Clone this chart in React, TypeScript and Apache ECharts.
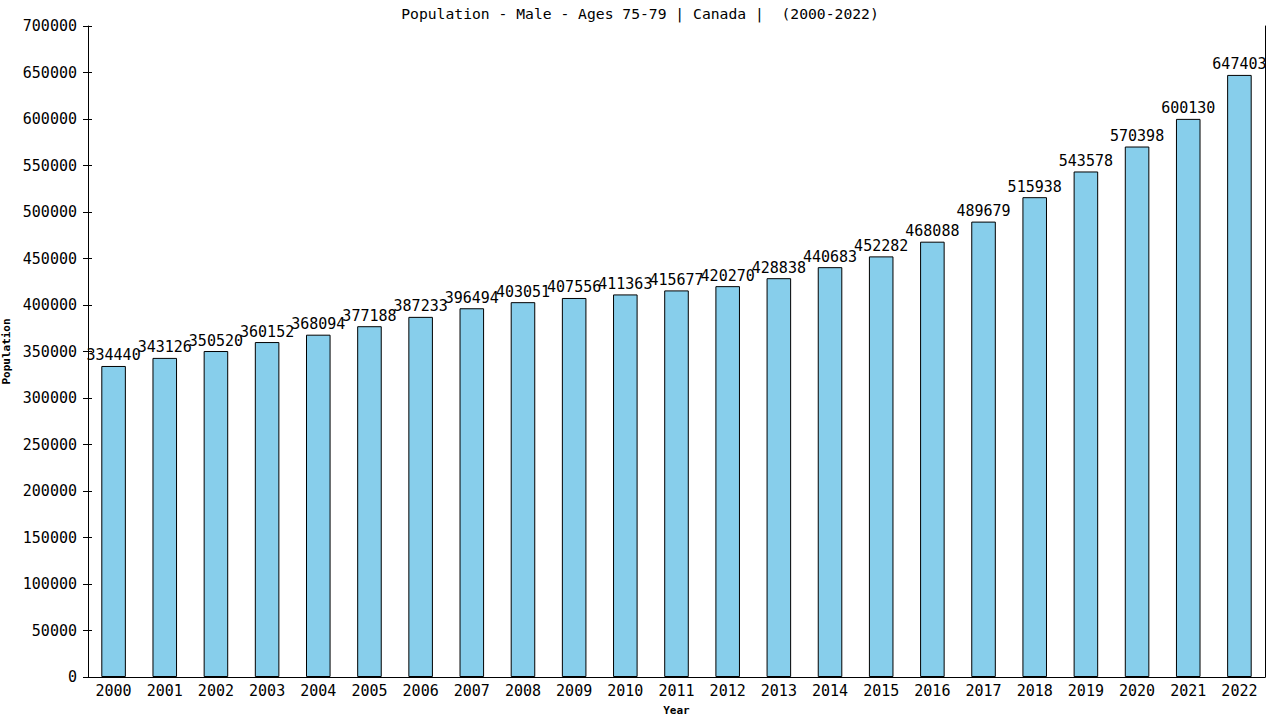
import { useEffect, useRef } from 'react';
import * as echarts from 'echarts';

const years = ['2000', '2001', '2002', '2003', '2004', '2005', '2006', '2007', '2008', '2009', '2010', '2011',
  '2012', '2013', '2014', '2015', '2016', '2017', '2018', '2019', '2020', '2021', '2022'];
const population = [334440, 343126, 350520, 360152, 368094, 377188, 387233, 396494, 403051, 407556, 411363, 415677,
  420270, 428838, 440683, 452282, 468088, 489679, 515938, 543578, 570398, 600130, 647403];

const FONT = '"DejaVu Sans Mono", monospace';

export default function App() {
  const chartRef = useRef<HTMLDivElement>(null);

  useEffect(() => {
    if (!chartRef.current) return;
    const instance = echarts.init(chartRef.current, undefined, { renderer: 'svg' });

    const scale = { type: 'value' as const, min: 0, max: 700000, interval: 50000 };

    instance.setOption({
      animation: false,
      backgroundColor: '#fff',
      title: {
        text: 'Population - Male - Ages 75-79 | Canada |  (2000-2022)',
        left: 'center',
        top: 1,
        textStyle: { fontFamily: FONT, fontSize: 14.7, fontWeight: 'normal', color: '#000' },
      },
      grid: { left: 88, right: 15, top: 26, bottom: 43, outerBoundsMode: 'none', containLabel: false },
      xAxis: {
        type: 'category',
        data: years,
        name: 'Year',
        nameLocation: 'middle',
        nameGap: 28,
        nameMoveOverlap: false,
        nameTextStyle: { fontFamily: FONT, fontSize: 11, fontWeight: 'bold', color: '#000' },
        axisLine: { lineStyle: { color: '#000', width: 1 } },
        axisTick: { show: false },
        axisLabel: { fontFamily: FONT, fontSize: 15, color: '#000', margin: 6 },
      },
      yAxis: [
        {
          ...scale,
          name: 'Population',
          nameLocation: 'middle',
          nameGap: 76,
          nameMoveOverlap: false,
          nameTextStyle: { fontFamily: FONT, fontSize: 11, fontWeight: 'bold', color: '#000' },
          axisLine: { show: true, lineStyle: { color: '#000', width: 1 } },
          axisTick: { show: true, length: 5, lineStyle: { color: '#000' } },
          axisLabel: { fontFamily: FONT, fontSize: 15, color: '#000', margin: 11, formatter: (v: number) => String(v) },
          splitLine: { show: false },
        },
        {
          ...scale,
          position: 'left',
          axisLine: { show: false },
          axisTick: { show: true, inside: true, length: 4, lineStyle: { color: '#000' } },
          axisLabel: { show: false },
          splitLine: { show: false },
        },
        {
          ...scale,
          position: 'right',
          axisLine: { show: true, lineStyle: { color: '#000', width: 1 } },
          axisTick: { show: false },
          axisLabel: { show: false },
          splitLine: { show: false },
        },
      ],
      series: [
        {
          type: 'bar',
          data: population,
          barWidth: '48%',
          itemStyle: { color: '#87CEEB', borderColor: '#000', borderWidth: 1 },
          label: {
            show: true,
            position: 'top',
            distance: 3,
            fontFamily: FONT,
            fontSize: 15,
            color: '#000',
          },
        },
      ],
    });

    return () => instance.dispose();
  }, []);

  return (
    <div
      ref={chartRef}
      style={{ position: 'absolute', left: 0, top: 0, width: 1280, height: 720 }}
    />
  );
}
